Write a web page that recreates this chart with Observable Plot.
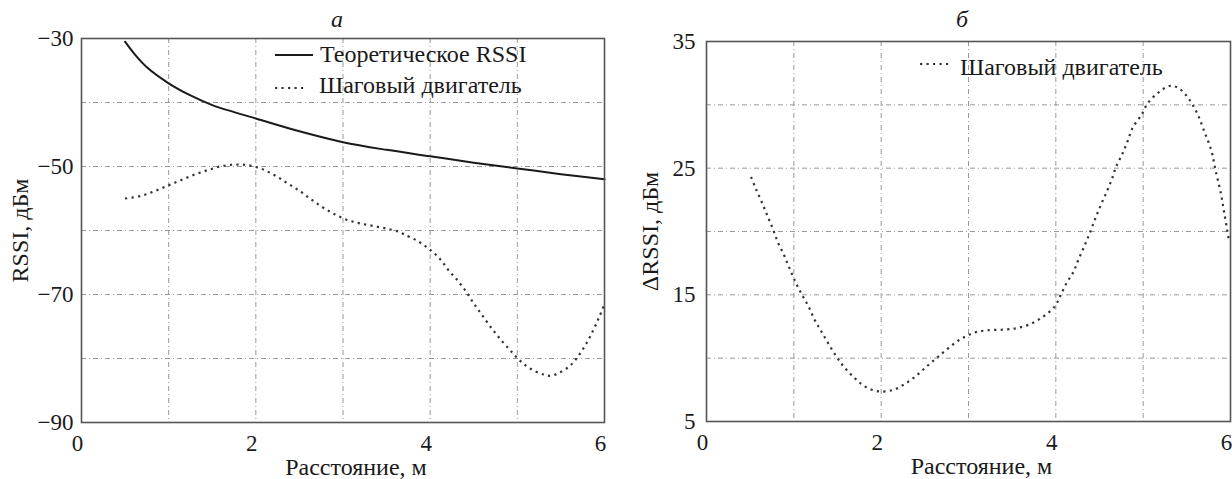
<!DOCTYPE html>
<html>
<head>
<meta charset="utf-8">
<script src="https://cdn.jsdelivr.net/npm/d3@7"></script>
<script src="https://cdn.jsdelivr.net/npm/@observablehq/plot@0.6"></script>
<style>
  html, body { margin: 0; padding: 0; background: #fff; }
  #wrap { position: relative; width: 1232px; height: 479px; overflow: hidden; font-family: 'Liberation Serif', serif; color: #1a1a1a; }
  .panel { position: absolute; top: 0; }
  #overlay { position: absolute; left: 0; top: 0; pointer-events: none; }
</style>
</head>
<body>
<div id="wrap">
  <div id="pa" class="panel" style="left:0"></div>
  <div id="pb" class="panel" style="left:616px"></div>
  <svg id="overlay" width="1232" height="479"></svg>
</div>
<script>
// ---------- data ----------
const panelTitles = ["а", "б"];
const xLabel = "Расстояние, м";
const yLabelA = "RSSI, дБм";
const yLabelB = "ΔRSSI, дБм";
const seriesTheory = "Теоретическое RSSI";
const seriesStepper = "Шаговый двигатель";

const xTicks = [0, 2, 4, 6];
const xGrid = [1, 2, 3, 4, 5];
const yTicksA = [-30, -50, -70, -90];
const yGridA = [-40, -50, -60, -70, -80];
const yTicksB = [5, 15, 25, 35];
const yGridB = [10, 15, 20, 25, 30];

// Panel a: theoretical RSSI
const distTheory = [0.5, 0.6, 0.75, 1, 1.25, 1.5, 1.75, 2, 2.5, 3, 3.5, 4, 4.5, 5, 5.5, 6];
const rssiTheory = [-30.5, -32.3, -34.5, -37.0, -38.9, -40.4, -41.5, -42.5, -44.5, -46.2, -47.4, -48.4, -49.4, -50.3, -51.2, -52.0];

// Panel a: stepper motor
const distStep = [0.5, 0.68, 0.83, 0.99, 1.13, 1.29, 1.44, 1.59, 1.76, 1.91, 2.07, 2.22, 2.36, 2.5, 2.63, 2.77, 2.91, 3.06, 3.2, 3.35, 3.5, 3.64, 3.7, 3.85, 3.99, 4.11, 4.21, 4.32, 4.42, 4.51, 4.6, 4.7, 4.8, 4.91, 5.02, 5.15, 5.3, 5.38, 5.47, 5.6, 5.7, 5.79, 5.87, 5.94, 6.0];
const rssiStep = [-55.0, -54.6, -53.9, -53.0, -52.2, -51.3, -50.6, -50.0, -49.7, -49.8, -50.4, -51.4, -52.6, -53.8, -55.1, -56.4, -57.5, -58.4, -58.9, -59.3, -59.7, -60.2, -60.6, -61.6, -62.9, -64.4, -66.2, -67.9, -69.7, -71.6, -73.3, -75.2, -76.9, -78.6, -80.2, -81.6, -82.5, -82.7, -82.3, -81.2, -79.6, -77.7, -75.6, -73.5, -71.5];

// Panel б: ΔRSSI stepper motor
const distDelta = [0.51, 0.57, 0.64, 0.7, 0.76, 0.82, 0.89, 0.95, 1.02, 1.09, 1.17, 1.24, 1.32, 1.4, 1.49, 1.58, 1.7, 1.82, 1.98, 2.14, 2.28, 2.41, 2.53, 2.65, 2.77, 2.91, 3.06, 3.21, 3.4, 3.55, 3.71, 3.86, 3.99, 4.05, 4.12, 4.2, 4.26, 4.33, 4.39, 4.45, 4.51, 4.58, 4.64, 4.69, 4.76, 4.82, 4.88, 4.98, 5.05, 5.18, 5.31, 5.41, 5.52, 5.62, 5.7, 5.78, 5.83, 5.89, 5.93, 5.98];
const deltaRssi = [24.3, 23.3, 22.2, 21.2, 20.2, 19.1, 18.1, 17.1, 16.0, 15.05, 14.05, 13.0, 12.05, 11.1, 10.1, 9.26, 8.4, 7.74, 7.37, 7.5, 8.0, 8.66, 9.4, 10.1, 10.8, 11.5, 12.0, 12.2, 12.25, 12.37, 12.7, 13.3, 14.1, 14.9, 15.9, 16.8, 17.8, 18.9, 19.9, 21.0, 22.0, 23.1, 24.1, 25.1, 26.1, 27.1, 28.2, 29.2, 30.1, 31.0, 31.5, 31.3, 30.5, 29.3, 27.9, 26.4, 24.8, 23.0, 21.4, 19.4];

// ---------- styles ----------
const FONT = "'Liberation Serif', 'Times New Roman', serif";
const gridStyle = { stroke: "#9a9a9a", strokeOpacity: 1, strokeWidth: 1, strokeDasharray: "5,3,1,3" };
const dotStyle = { stroke: "#333", strokeWidth: 2.2, strokeDasharray: "2.2,4.3", strokeLinecap: "butt" };

const toRows = (xs, ys) => xs.map((x, i) => ({ x, y: ys[i] }));

function panel({ yDomain, yTicks, yGrid, yLabel, marginLeft, marginRight, marginTop, marginBottom, lines, yLabelOffset, yTickPad }) {
  return Plot.plot({
    width: 616,
    height: 479,
    marginLeft, marginRight, marginTop, marginBottom,
    style: { fontFamily: FONT, fontSize: "23px", color: "#1a1a1a", background: "transparent", overflow: "visible" },
    x: { domain: [0, 6] },
    y: { domain: yDomain },
    marks: [
      Plot.gridX(xGrid, gridStyle),
      Plot.gridY(yGrid, gridStyle),
      ...lines,
      Plot.frame({ stroke: "#555", strokeWidth: 1.6 }),
      Plot.axisX(xTicks, { tickSize: 0, tickPadding: 12, label: null, fontSize: 23, dx: -4, tickFormat: d3.format("d") }),
      Plot.axisY(yTicks, { tickSize: 0, tickPadding: yTickPad, label: null, fontSize: 23 }),
      Plot.text([xLabel], { text: d => d, frameAnchor: "bottom", dy: 52, dx: 13, lineAnchor: "bottom", textAnchor: "middle", fontSize: 24 }),
      Plot.text([yLabel], { text: d => d, frameAnchor: "left", dx: -yLabelOffset, rotate: -90, lineAnchor: "top", textAnchor: "middle", fontSize: 24 })
    ]
  });
}

const chartA = panel({
  yDomain: [-90, -30], yTicks: yTicksA, yGrid: yGridA, yLabel: yLabelA,
  marginLeft: 81, marginRight: 12, marginTop: 38, marginBottom: 57, yLabelOffset: 71, yTickPad: 8,
  lines: [
    Plot.line(toRows(distTheory, rssiTheory), { x: "x", y: "y", stroke: "#1a1a1a", strokeWidth: 2, curve: "catmull-rom" }),
    Plot.line(toRows(distStep, rssiStep), { x: "x", y: "y", curve: "catmull-rom", ...dotStyle })
  ]
});
document.getElementById("pa").appendChild(chartA);

const chartB = panel({
  yDomain: [5, 35], yTicks: yTicksB, yGrid: yGridB, yLabel: yLabelB,
  marginLeft: 90, marginRight: 2, marginTop: 41, marginBottom: 58, yLabelOffset: 66, yTickPad: 11,
  lines: [
    Plot.line(toRows(distDelta, deltaRssi), { x: "x", y: "y", curve: "catmull-rom", ...dotStyle })
  ]
});
document.getElementById("pb").appendChild(chartB);

// ---------- titles & legends (overlay) ----------
const ov = d3.select("#overlay");
ov.append("text").attr("x", 337).attr("y", 27).attr("text-anchor", "middle")
  .attr("font-family", FONT).attr("font-style", "italic").attr("font-size", 24).attr("fill", "#1a1a1a").text(panelTitles[0]);
ov.append("text").attr("x", 962).attr("y", 27).attr("text-anchor", "middle")
  .attr("font-family", FONT).attr("font-style", "italic").attr("font-size", 24).attr("fill", "#1a1a1a").text(panelTitles[1]);

function legendItem(x1, x2, y, tx, ty, label, solid) {
  const ln = ov.append("line").attr("x1", x1).attr("x2", x2).attr("y1", y).attr("y2", y);
  if (solid) ln.attr("stroke", "#1a1a1a").attr("stroke-width", 2);
  else ln.attr("stroke", dotStyle.stroke).attr("stroke-width", dotStyle.strokeWidth).attr("stroke-dasharray", dotStyle.strokeDasharray);
  ov.append("text").attr("x", tx).attr("y", ty).attr("font-family", FONT).attr("font-size", 24)
    .attr("fill", "#1a1a1a").text(label);
}
legendItem(275, 313, 55, 320, 62, seriesTheory, true);
legendItem(275, 306, 88, 319, 93, seriesStepper, false);
legendItem(920, 950, 64, 960, 75, seriesStepper, false);
</script>
</body>
</html>
